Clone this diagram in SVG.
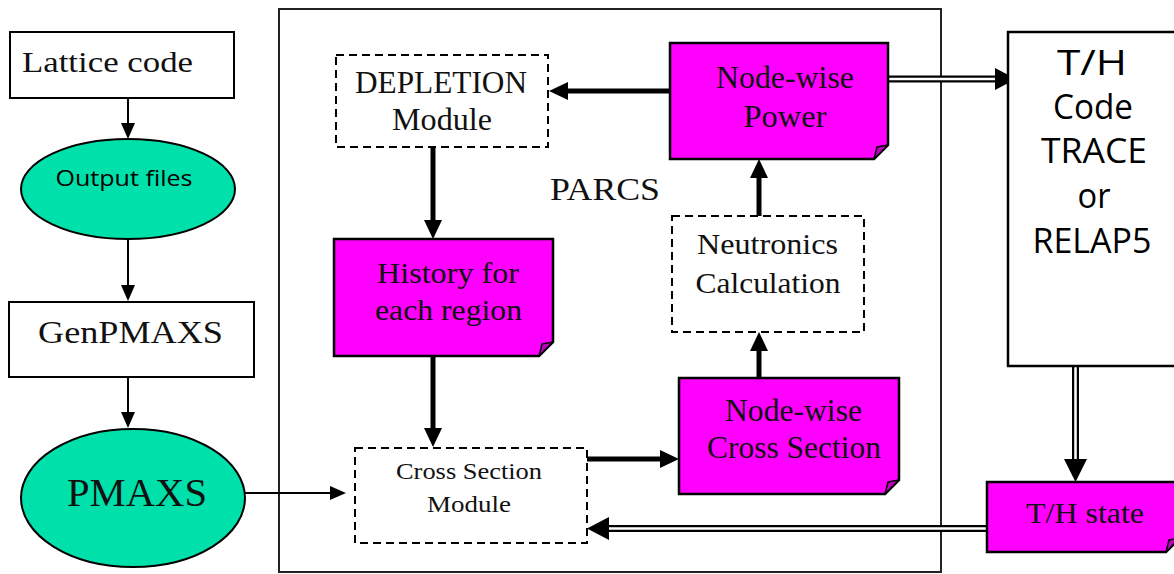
<svg xmlns="http://www.w3.org/2000/svg" width="1174" height="574" viewBox="0 0 1174 574">
<defs>
<marker id="thin" markerUnits="userSpaceOnUse" markerWidth="16" markerHeight="14" viewBox="0 0 16 14" refX="2" refY="7" orient="auto"><path d="M0,0 L16,7 L0,14 Z" fill="#000"/></marker>
<marker id="thick" markerUnits="userSpaceOnUse" markerWidth="19" markerHeight="18" viewBox="0 0 19 18" refX="2" refY="9" orient="auto"><path d="M0,0 L19,9 L0,18 Z" fill="#000"/></marker>
<style>
.box{fill:#fff;stroke:#000;stroke-width:2}
.dash{fill:#fff;stroke:#000;stroke-width:2;stroke-dasharray:8 5}
.mag{fill:#ff00ff;stroke:#000;stroke-width:2.5}
.flap{fill:#c000c0;stroke:#000;stroke-width:1.5;stroke-linejoin:round}
.ell{fill:#00e0aa;stroke:#000;stroke-width:2}
.serif{font-family:"Liberation Serif","Times New Roman",serif;fill:#111;text-anchor:middle}
.sans{font-family:"Open Sans","Liberation Sans",sans-serif;fill:#000;text-anchor:middle}
.thin{stroke:#000;stroke-width:2;fill:none;marker-end:url(#thin)}
.thick{stroke:#000;stroke-width:5;fill:none;marker-end:url(#thick)}
.dblo{stroke:#000;stroke-width:7;fill:none}
.dbli{stroke:#fff;stroke-width:2.5;fill:none}
</style>
</defs>
<rect id="parcs" x="279" y="9" width="662" height="563" fill="#fff" stroke="#222" stroke-width="2"/>
<text class="serif" x="605" y="200" font-size="32" textLength="110" lengthAdjust="spacingAndGlyphs">PARCS</text>
<g id="connectors">
<line class="thin" x1="128" y1="98" x2="128" y2="125"/>
<line class="thin" x1="128" y1="239" x2="128" y2="287"/>
<line class="thin" x1="128" y1="377" x2="128" y2="414"/>
<line class="thin" x1="245" y1="493" x2="332" y2="493"/>
<line class="thick" x1="670" y1="91" x2="566" y2="91"/>
<line class="thick" x1="433" y1="147" x2="433" y2="222"/>
<line class="thick" x1="433" y1="356" x2="433" y2="430"/>
<line class="thick" x1="587" y1="459" x2="662" y2="459"/>
<line class="thick" x1="759" y1="378" x2="759" y2="349"/>
<line class="thick" x1="759" y1="216" x2="759" y2="176"/>
<path class="dblo" d="M888,79 H997"/>
<path class="dbli" d="M888,79 H997"/>
<polygon points="1016,79 995,68 995,90" fill="#000"/>
<path class="dblo" d="M1075.5,366 V461"/>
<path class="dbli" d="M1075.5,366 V461"/>
<polygon points="1075.5,482 1064,459 1087,459" fill="#000"/>
<path class="dblo" d="M987,528.5 H607"/>
<path class="dbli" d="M987,528.5 H607"/>
<polygon points="587,528.5 609,517 609,540" fill="#000"/>
</g>
<g id="lattice">
<rect class="box" x="10" y="32" width="224" height="66"/>
<text class="serif" x="107.5" y="72" font-size="29" textLength="171" lengthAdjust="spacingAndGlyphs">Lattice code</text>
</g>
<g id="output">
<ellipse class="ell" cx="128" cy="189" rx="107" ry="50"/>
<text class="sans" x="124" y="186" font-size="22" textLength="137" lengthAdjust="spacingAndGlyphs">Output files</text>
</g>
<g id="genpmaxs">
<rect class="box" x="9" y="302" width="245" height="75"/>
<text class="serif" x="130.5" y="343" font-size="31" textLength="185" lengthAdjust="spacingAndGlyphs">GenPMAXS</text>
</g>
<g id="pmaxs">
<ellipse class="ell" cx="133" cy="498" rx="112" ry="69"/>
<text class="serif" x="137" y="506" font-size="39" textLength="140" lengthAdjust="spacingAndGlyphs">PMAXS</text>
</g>
<g id="depletion">
<rect class="dash" x="336" y="55" width="212" height="92"/>
<text class="serif" x="441" y="93" font-size="31" textLength="172" lengthAdjust="spacingAndGlyphs">DEPLETION</text>
<text class="serif" x="442" y="130" font-size="31" textLength="100" lengthAdjust="spacingAndGlyphs">Module</text>
</g>
<g id="power">
<path class="mag" d="M670,43 H888 V145 L874,159 H670 Z"/>
<path class="flap" d="M874,159 L877,147 L888,145 Z"/>
<text class="serif" x="785" y="88" font-size="31" textLength="138" lengthAdjust="spacingAndGlyphs">Node-wise</text>
<text class="serif" x="785" y="127" font-size="31" textLength="83" lengthAdjust="spacingAndGlyphs">Power</text>
</g>
<g id="history">
<path class="mag" d="M334,239 H553 V342 L539,356 H334 Z"/>
<path class="flap" d="M539,356 L542,344 L553,342 Z"/>
<text class="serif" x="448" y="283" font-size="30" textLength="142" lengthAdjust="spacingAndGlyphs">History for</text>
<text class="serif" x="448.5" y="320" font-size="30" textLength="147" lengthAdjust="spacingAndGlyphs">each region</text>
</g>
<g id="neutronics">
<rect class="dash" x="672" y="216" width="192" height="116"/>
<text class="serif" x="767.5" y="254" font-size="30" textLength="141" lengthAdjust="spacingAndGlyphs">Neutronics</text>
<text class="serif" x="768" y="293" font-size="30" textLength="145" lengthAdjust="spacingAndGlyphs">Calculation</text>
</g>
<g id="csmodule">
<rect class="dash" x="355" y="448" width="232" height="95"/>
<text class="serif" x="469" y="479" font-size="24" textLength="146" lengthAdjust="spacingAndGlyphs">Cross Section</text>
<text class="serif" x="469" y="512" font-size="24" textLength="84" lengthAdjust="spacingAndGlyphs">Module</text>
</g>
<g id="nodecs">
<path class="mag" d="M679,378 H899 V480 L885,494 H679 Z"/>
<path class="flap" d="M885,494 L888,482 L899,480 Z"/>
<text class="serif" x="793.5" y="421" font-size="31" textLength="137" lengthAdjust="spacingAndGlyphs">Node-wise</text>
<text class="serif" x="794" y="458" font-size="31" textLength="174" lengthAdjust="spacingAndGlyphs">Cross Section</text>
</g>
<g id="thcode">
<rect x="1008" y="32" width="170" height="334" fill="#fff" stroke="#000" stroke-width="2.5"/>
<text class="sans" x="1092" y="75" font-size="34" textLength="70" lengthAdjust="spacingAndGlyphs">T/H</text>
<text class="sans" x="1093" y="119" font-size="34" textLength="80" lengthAdjust="spacingAndGlyphs">Code</text>
<text class="sans" x="1094" y="163" font-size="34" textLength="106" lengthAdjust="spacingAndGlyphs">TRACE</text>
<text class="sans" x="1094" y="208" font-size="34" textLength="33" lengthAdjust="spacingAndGlyphs">or</text>
<text class="sans" x="1092" y="253" font-size="34" textLength="119" lengthAdjust="spacingAndGlyphs">RELAP5</text>
</g>
<g id="thstate">
<path class="mag" d="M987,482 H1180 V538 L1166,552 H987 Z"/>
<path class="flap" d="M1166,552 L1169,540 L1180,538 Z"/>
<text class="serif" x="1085" y="523" font-size="30" textLength="118" lengthAdjust="spacingAndGlyphs">T/H state</text>
</g>
</svg>
